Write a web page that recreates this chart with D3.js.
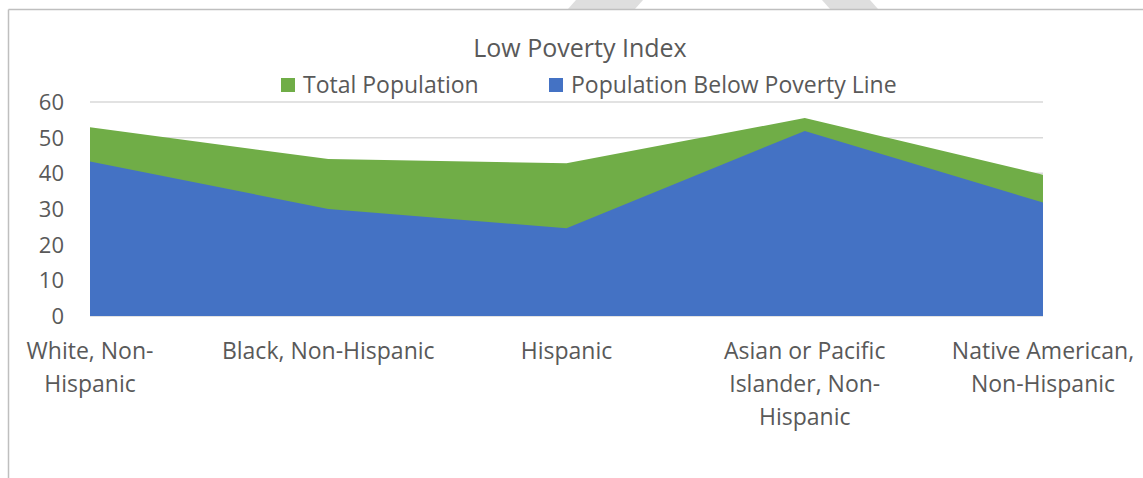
<!DOCTYPE html>
<html>
<head>
<meta charset="utf-8">
<script src="https://cdn.jsdelivr.net/npm/d3@7"></script>
<style>
  body { margin: 0; background: #fff; }
  text { font-family: "Open Sans", Lato, sans-serif; fill: #595959; }
</style>
</head>
<body>
<div class="chart"></div>
<script>
// categories and the two series
var categories = ["White, Non-Hispanic", "Black, Non-Hispanic", "Hispanic",
    "Asian or Pacific Islander, Non-Hispanic", "Native American, Non-Hispanic"];
// labels as they wrap in the original
var categoryLines = [["White, Non-", "Hispanic"], ["Black, Non-Hispanic"], ["Hispanic"],
    ["Asian or Pacific", "Islander, Non-", "Hispanic"], ["Native American,", "Non-Hispanic"]];
var totalPopulation = [52.9, 44.0, 42.8, 55.5, 39.6];
var belowPoverty = [43.3, 30.0, 24.6, 51.9, 31.8];
var yTicks = [0, 10, 20, 30, 40, 50, 60];
var seriesNames = ["Total Population", "Population Below Poverty Line"];
var seriesColors = ["#70ad47", "#4472c4"];

var width = 1143, height = 478;
var svg = d3.select(".chart").append("svg").attr("width", width).attr("height", height);

// faint watermark shapes above the frame
svg.append("polygon").attr("points", "576,0 643,0 635,9 568,9").attr("fill", "#dedede");
svg.append("polygon").attr("points", "822,0 870,0 878,9 830,9").attr("fill", "#dedede");

// frame lines (top and left only are visible)
svg.append("line").attr("x1", 8.5).attr("y1", 9.5).attr("x2", width).attr("y2", 9.5)
    .attr("stroke", "#bfbfbf").attr("stroke-width", 1.5);
svg.append("line").attr("x1", 8.5).attr("y1", 9.5).attr("x2", 8.5).attr("y2", height)
    .attr("stroke", "#bfbfbf").attr("stroke-width", 1.5);

var x = d3.scalePoint().domain(categories).range([90, 1043]);
var y = d3.scaleLinear().domain([0, 60]).range([316, 102]);

// gridlines
svg.append("g").selectAll("line").data(yTicks).enter().append("line")
    .attr("x1", 90).attr("x2", 1043)
    .attr("y1", function(d) { return y(d); }).attr("y2", function(d) { return y(d); })
    .attr("stroke", "#d9d9d9").attr("stroke-width", 1.5);

// y tick labels
svg.append("g").selectAll("text").data(yTicks).enter().append("text")
    .attr("x", 64).attr("y", function(d) { return y(d) + 8; })
    .attr("text-anchor", "end").attr("font-size", "22px").text(function(d) { return d; });

// areas, total first then below-poverty in front
var area = d3.area()
    .x(function(d, i) { return x(categories[i]); })
    .y0(y(0))
    .y1(function(d) { return y(d); });
[totalPopulation, belowPoverty].forEach(function(values, i) {
    svg.append("path").attr("d", area(values)).attr("fill", seriesColors[i]);
});

// category labels, centred on each category position
categories.forEach(function(c, i) {
    var t = svg.append("text").attr("text-anchor", "middle").attr("font-size", "23px");
    categoryLines[i].forEach(function(line, j) {
        t.append("tspan").attr("x", x(c)).attr("y", 359 + j * 33).text(line);
    });
});

// title
svg.append("text").attr("x", 580).attr("y", 57).attr("text-anchor", "middle")
    .attr("font-size", "25px").text("Low Poverty Index");

// legend
var legendX = [281, 549];
seriesNames.forEach(function(name, i) {
    svg.append("rect").attr("x", legendX[i]).attr("y", 78).attr("width", 14).attr("height", 14)
        .attr("fill", seriesColors[i]);
    svg.append("text").attr("x", legendX[i] + 22).attr("y", 93).attr("font-size", "23px").text(name);
});
</script>
</body>
</html>
